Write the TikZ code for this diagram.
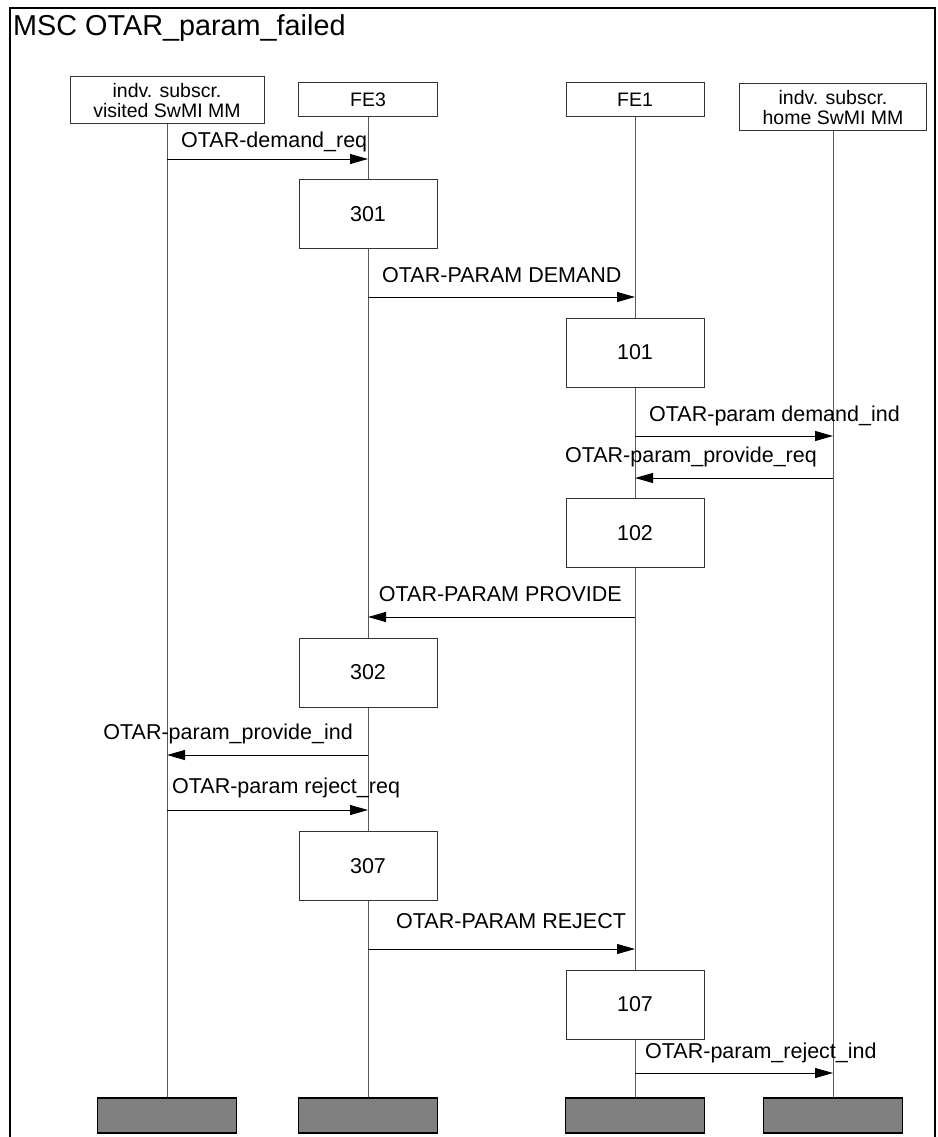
\documentclass[tikz,border=0pt]{standalone}
\usepackage{fontspec}
\setmainfont{Liberation Sans}
\usepackage{tikz}
\usetikzlibrary{arrows.meta,positioning}

\begin{document}
\begin{tikzpicture}[x=1pt,y=-1pt,
    frame/.style={line width=2.5pt, black},
    head/.style={draw=black!80, fill=white, line width=1pt, align=center, inner sep=0pt,
        font=\fontsize{19.5}{20.5}\selectfont},
    proc/.style={draw=black!80, fill=white, line width=1pt, minimum width=138pt, minimum height=69pt,
        inner sep=0pt, font=\fontsize{21.5}{24}\selectfont},
    stop/.style={draw=black, fill=black!50, line width=1.2pt, minimum width=139pt, minimum height=35pt, inner sep=0pt},
    life/.style={black!65, line width=1pt},
    msg/.style={black, line width=1pt, -{Triangle[length=18pt,width=10pt]}},
    lbl/.style={inner sep=0pt, font=\fontsize{21.5}{24}\selectfont}]
    \useasboundingbox (0,0) rectangle (937,1137);
    \draw[frame] (10,1145) -- (10,8) -- (935,8) -- (935,1145);
    \node (title) at (13,36) [anchor=base west, inner sep=0pt, font=\fontsize{28.8}{32}\selectfont] {MSC OTAR\_param\_failed};

    % instance heads
    \node (hv) at (167,100.5) [head, minimum width=194pt, minimum height=47pt] {indv. subscr.\\visited SwMI MM};
    \node (hfe3) at (368,100) [head, minimum width=139pt, minimum height=34pt] {FE3};
    \node (hfe1) at (635,100) [head, minimum width=138pt, minimum height=34pt] {FE1};
    \node (hh) at (833,107.5) [head, minimum width=187pt, minimum height=47pt] {indv. subscr.\\home SwMI MM};

    % instance ends
    \node (ev) at (167,1115.5) [stop] {};
    \node (efe3) at (368,1115.5) [stop] {};
    \node (efe1) at (635,1115.5) [stop] {};
    \node (eh) at (833,1115.5) [stop] {};

    \draw[life] (hv) -- (ev);
    \draw[life] (hfe3) -- (efe3);
    \draw[life] (hfe1) -- (efe1);
    \draw[life] (hh) -- (eh);

    % tasks
    \node (p301) at (368,214) [proc] {301};
    \node (p101) at (635,352.5) [proc] {101};
    \node (p102) at (635,533) [proc] {102};
    \node (p302) at (368,672.5) [proc] {302};
    \node (p307) at (368,866) [proc] {307};
    \node (p107) at (635,1004.5) [proc] {107};

    % messages
    \draw[msg] (hv |- 0,159) -- (hfe3 |- 0,159);
    \node (l1) at (181,147) [lbl, anchor=base west] {OTAR-demand\_req};
    \draw[msg] (hfe3 |- 0,297) -- (hfe1 |- 0,297);
    \node (l2) at (382,282) [lbl, anchor=base west] {OTAR-PARAM DEMAND};
    \draw[msg] (hfe1 |- 0,436) -- (hh |- 0,436);
    \node (l3) at (649,421) [lbl, anchor=base west] {OTAR-param demand\_ind};
    \draw[msg] (hh |- 0,478) -- (hfe1 |- 0,478);
    \node (l4) at (817,462) [lbl, anchor=base east] {OTAR-param\_provide\_req};
    \draw[msg] (hfe1 |- 0,617) -- (hfe3 |- 0,617);
    \node (l5) at (622,601) [lbl, anchor=base east] {OTAR-PARAM PROVIDE};
    \draw[msg] (hfe3 |- 0,755) -- (hv |- 0,755);
    \node (l6) at (353,739) [lbl, anchor=base east] {OTAR-param\_provide\_ind};
    \draw[msg] (hv |- 0,810) -- (hfe3 |- 0,810);
    \node (l7) at (172,793) [lbl, anchor=base west] {OTAR-param reject\_req};
    \draw[msg] (hfe3 |- 0,949) -- (hfe1 |- 0,949);
    \node (l8) at (396,928) [lbl, anchor=base west] {OTAR-PARAM REJECT};
    \draw[msg] (hfe1 |- 0,1073) -- (hh |- 0,1073);
    \node (l9) at (645,1058) [lbl, anchor=base west] {OTAR-param\_reject\_ind};
\end{tikzpicture}
\end{document}
